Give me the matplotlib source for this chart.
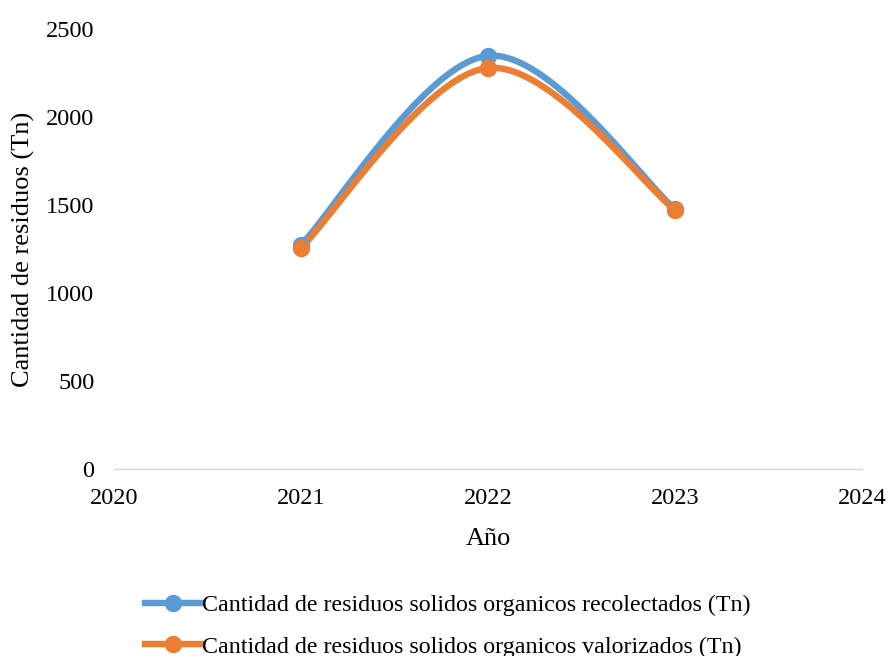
import numpy as np
import matplotlib
matplotlib.use("Agg")
import matplotlib.pyplot as plt
from matplotlib.lines import Line2D

plt.rcParams['font.family'] = ['Liberation Serif', 'DejaVu Serif']

years = [2021, 2022, 2023]
recolectados = [1273, 2347, 1478]
valorizados = [1256, 2278, 1472]
labels = ["Cantidad de residuos solidos organicos recolectados (Tn)",
          "Cantidad de residuos solidos organicos valorizados (Tn)"]
colors = ["#5B9BD5", "#ED7D31"]
x_ticks = [2020, 2021, 2022, 2023, 2024]
y_ticks = [0, 500, 1000, 1500, 2000, 2500]

fig = plt.figure(figsize=(8.9, 6.56), dpi=100)
ax = fig.add_axes([0.128, 0.285, 0.8405, 0.671])
ax.set_xlim(2020, 2024)
ax.set_ylim(0, 2500)


def smooth_curve(xs, ys, n=60):
    """Bezier smoothing of a polyline in display space (Catmull-Rom style)."""
    pts = ax.transData.transform(np.column_stack([xs, ys]))
    ext = np.vstack([pts[0], pts, pts[-1]])
    out = []
    for i in range(len(pts) - 1):
        p0, p1 = ext[i + 1], ext[i + 2]
        c1 = p0 + (ext[i + 2] - ext[i]) / 6.0
        c2 = p1 - (ext[i + 3] - ext[i + 1]) / 6.0
        t = np.linspace(0, 1, n)[:, None]
        seg = ((1 - t) ** 3) * p0 + 3 * ((1 - t) ** 2) * t * c1 \
            + 3 * (1 - t) * t ** 2 * c2 + t ** 3 * p1
        out.append(seg if i == 0 else seg[1:])
    out = np.vstack(out)
    return ax.transData.inverted().transform(out)


for series, color in zip([recolectados, valorizados], colors):
    curve = smooth_curve(years, series)
    ax.plot(curve[:, 0], curve[:, 1], color=color, lw=4.6,
            solid_capstyle='round', zorder=3)
    ax.plot(years, series, 'o', color=color, ms=11.5, zorder=4)

ax.set_xticks(x_ticks)
ax.set_yticks(y_ticks)
ax.tick_params(axis='x', length=0, labelsize=17.5, colors='black', pad=14)
ax.tick_params(axis='y', length=0, labelsize=17.5, colors='black', pad=14)
for s in ['top', 'right', 'left']:
    ax.spines[s].set_visible(False)
ax.spines['bottom'].set_color('#D9D9D9')
ax.spines['bottom'].set_linewidth(1)

ax.set_xlabel("Año", fontsize=19, labelpad=13)
ax.set_ylabel("Cantidad de residuos (Tn)", fontsize=19, labelpad=8)

handles = [Line2D([], [], color=c, lw=4.6, marker='o', ms=11.5) for c in colors]
fig.legend(handles, labels, loc='upper center', bbox_to_anchor=(0.503, 0.112),
           frameon=False, fontsize=17.25, ncol=1, labelspacing=0.82,
           handlelength=2.35, handletextpad=0.05, borderpad=0)

fig.savefig("out.png", dpi=100)
